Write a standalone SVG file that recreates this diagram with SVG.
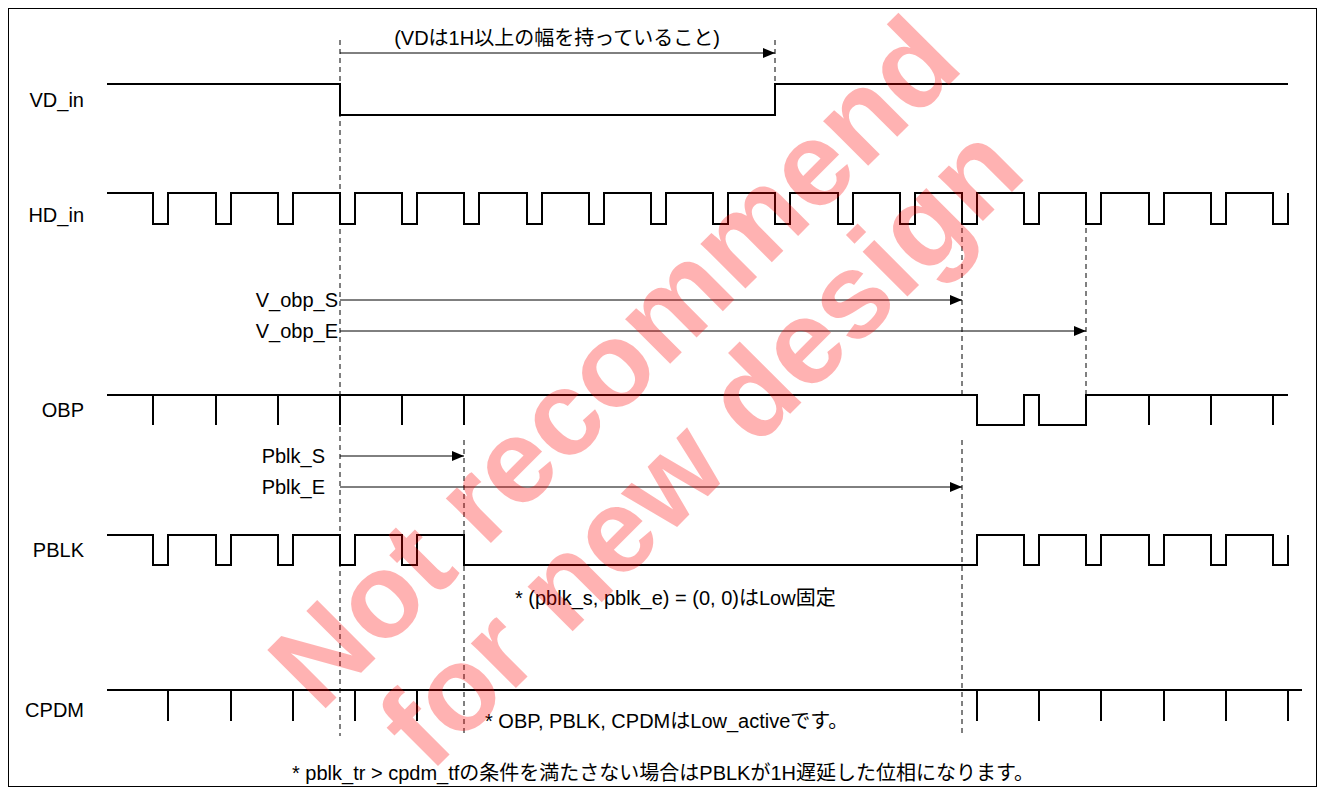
<svg xmlns="http://www.w3.org/2000/svg" width="1325" height="795" viewBox="0 0 1325 795">
<defs>
<marker id="ah" markerWidth="12" markerHeight="10" refX="12" refY="5" orient="auto" markerUnits="userSpaceOnUse">
<path d="M0,0 L12,5 L0,10 Z" fill="#000"/>
</marker>
<style>
.wave{fill:none;stroke:#000;stroke-width:2}
.dash{fill:none;stroke:#000;stroke-width:1;stroke-dasharray:5,4}
.arr{fill:none;stroke:#000;stroke-width:1;marker-end:url(#ah)}
.lbl{font-family:"Liberation Sans","Noto Sans CJK JP",sans-serif;font-size:20px;fill:#000}
.wm{font-family:"Liberation Sans",Arial,sans-serif;font-weight:bold;font-size:120px;fill:#ff0000;fill-opacity:0.3}
</style>
</defs>
<rect x="8.5" y="8.5" width="1308" height="778" fill="#fff" stroke="#000" stroke-width="1"/>

<g id="connectors">
<path class="dash" d="M340,40 V736"/>
<path class="dash" d="M775,40 V84"/>
<path class="dash" d="M962,228 V395 M962,440 V736"/>
<path class="dash" d="M1086,228 V395"/>
<path class="dash" d="M464,440 V736"/>
<path class="arr" d="M340,53 H775"/>
<path class="arr" d="M340,300 H962"/>
<path class="arr" d="M340,331 H1086"/>
<path class="arr" d="M340,456 H464"/>
<path class="arr" d="M340,487 H962"/>
</g>

<g id="vd_in">
<text class="lbl" x="84" y="107" text-anchor="end">VD_in</text>
<path class="wave" d="M107,84 H340 V115 H775 V84 H1288"/>
<text class="lbl" x="557" y="45" text-anchor="middle">(VDは1H以上の幅を持っていること)</text>
</g>

<g id="hd_in">
<text class="lbl" x="84" y="222" text-anchor="end">HD_in</text>
<path class="wave" d="M107,193 H153 V224 H168 V193 H216 V224 H231 V193 H278 V224 H293 V193 H340 V224 H355 V193 H402 V224 H417 V193 H464 V224 H479 V193 H527 V224 H542 V193 H589 V224 H604 V193 H651 V224 H666 V193 H713 V224 H728 V193 H775 V224 H790 V193 H838 V224 H853 V193 H900 V224 H915 V193 H962 V224 H977 V193 H1024 V224 H1039 V193 H1086 V224 H1101 V193 H1149 V224 H1164 V193 H1211 V224 H1226 V193 H1273 V224 H1288 V193"/>
</g>

<g id="v_obp">
<text class="lbl" x="338" y="307" text-anchor="end">V_obp_S</text>
<text class="lbl" x="338" y="338" text-anchor="end">V_obp_E</text>
</g>

<g id="obp">
<text class="lbl" x="84" y="417" text-anchor="end">OBP</text>
<path class="wave" d="M107,395 H977 V425 H1024 V395 H1039 V425 H1086 V395 H1288"/>
<path class="wave" d="M153,395 V425 M216,395 V425 M278,395 V425 M340,395 V425 M402,395 V425 M464,395 V425 M1149,395 V425 M1211,395 V425 M1273,395 V425"/>
</g>

<g id="pblk_se">
<text class="lbl" x="325" y="463" text-anchor="end">Pblk_S</text>
<text class="lbl" x="325" y="494" text-anchor="end">Pblk_E</text>
</g>

<g id="pblk">
<text class="lbl" x="84" y="557" text-anchor="end">PBLK</text>
<path class="wave" d="M107,535 H153 V565 H168 V535 H216 V565 H231 V535 H278 V565 H293 V535 H340 V565 H355 V535 H402 V565 H417 V535 H464 V565 H977 V535 H1024 V565 H1039 V535 H1086 V565 H1101 V535 H1149 V565 H1164 V535 H1211 V565 H1226 V535 H1273 V565 H1288 V535"/>
<text class="lbl" x="515" y="605">* (pblk_s, pblk_e) = (0, 0)はLow固定</text>
</g>

<g id="cpdm">
<text class="lbl" x="84" y="717" text-anchor="end">CPDM</text>
<path class="wave" d="M107,690 H1302"/>
<path class="wave" d="M168,690 V721 M231,690 V721 M293,690 V721 M355,690 V721 M417,690 V721 M977,690 V721 M1039,690 V721 M1101,690 V721 M1164,690 V721 M1226,690 V721 M1288,690 V721"/>
<text class="lbl" x="485" y="728">* OBP, PBLK, CPDMはLow_activeです。</text>
</g>

<g id="note">
<text class="lbl" x="663" y="780" text-anchor="middle">* pblk_tr &gt; cpdm_tfの条件を満たさない場合はPBLKが1H遅延した位相になります。</text>
</g>

<g id="watermark">
<text class="wm" transform="translate(320,714) rotate(-45)">Not recommend</text>
<text class="wm" transform="translate(430,774) rotate(-45)">for new design</text>
</g>
</svg>
